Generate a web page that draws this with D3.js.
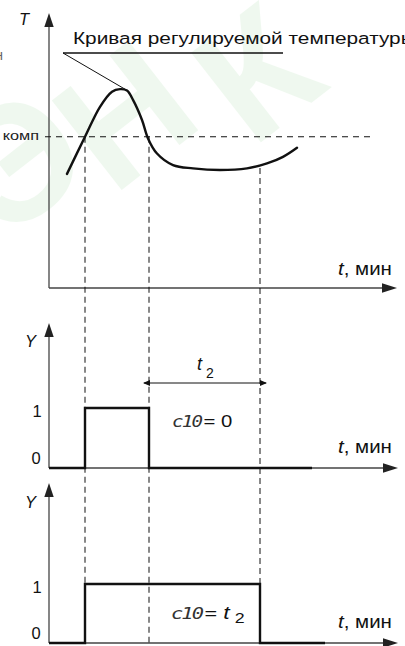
<!DOCTYPE html>
<html><head><meta charset="utf-8">
<script src="https://cdn.jsdelivr.net/npm/d3@7"></script>
<style>body{margin:0;background:#fff}svg{display:block}</style>
</head><body>
<script>
// ---- data ----
const curveT   = [1.8, 3.6, 5.1, 6.3, 7.1, 7.8, 8.4, 9.3, 9.9, 10.8, 12.4, 14.4, 17.1, 19.8, 21.8, 23.4, 24.8];
const curveVal = [41.5, 55, 65.9, 71.4, 72.3, 71.8, 68.4, 61.1, 54.4, 48.9, 44.7, 43.5, 42.9, 43.5, 45.3, 47.7, 51.0];
const threshold = 55;
const eventTimes = [3.6, 10.0, 21.1];           // t_on, t_off, t_on + t2
const stepT1 = [0, 3.6, 3.6, 10.0, 10.0, 26.3]; // c10 = 0
const stepY1 = [0, 0, 1, 1, 0, 0];
const stepT2 = [0, 3.6, 3.6, 21.1, 21.1, 27.6]; // c10 = t2
const stepY2 = [0, 0, 1, 1, 0, 0];
const yTicks = ["0", "1"];
const titleText = "Кривая регулируемой температуры";
const xLabel = ", мин";
const watermarkLetters = ["Э", "Н", "К"];

const W = 405, H = 646;
const svg = d3.select("body").append("svg").attr("width", W).attr("height", H);
const font = "Liberation Sans, Arial, sans-serif";

// faint watermark
const wmPos = [[52, 205], [160, 160], [292, 118]];
watermarkLetters.forEach((L, i) => {
  svg.append("text").attr("transform", `translate(${wmPos[i][0]},${wmPos[i][1]}) rotate(-38)`)
    .attr("font-family", font).attr("font-weight","bold").attr("font-size",165)
    .attr("fill","#3cb43c").attr("opacity",0.08).attr("text-anchor","middle").text(L);
});

const x = d3.scaleLinear().domain([0, 34.8]).range([49, 397]);
const yT = d3.scaleLinear().domain([0, 100]).range([288, 13]);
const y1 = d3.scaleLinear().domain([0, 1]).range([468, 408]);
const y2 = d3.scaleLinear().domain([0, 1]).range([643, 584]);

function placeStretched(sel, xp, yp, sx) {
  sel.attr("transform", `translate(${xp},${yp}) scale(${sx},1)`);
}

function arrowUp(xp, tipY) {
  svg.append("path").attr("d", `M${xp},${tipY} L${xp-4.7},${tipY+14} L${xp+4.7},${tipY+14} Z`).attr("fill","#222");
}
function arrowRight(tipX, yp) {
  svg.append("path").attr("d", `M${tipX},${yp} L${tipX-15},${yp-4.7} L${tipX-15},${yp+4.7} Z`).attr("fill","#222");
}
function axes(yScale, topY, tipX) {
  svg.append("line").attr("x1", x(0)).attr("x2", x(0)).attr("y1", yScale.range()[0]).attr("y2", topY+8)
    .attr("stroke","#444").attr("stroke-width",1.3);
  arrowUp(x(0), topY);
  svg.append("line").attr("x1", x(0)).attr("x2", tipX-8).attr("y1", yScale.range()[0]).attr("y2", yScale.range()[0])
    .attr("stroke","#444").attr("stroke-width",1.3);
  arrowRight(tipX, yScale.range()[0]);
}

function tLabel(xp, yp) {
  const t = svg.append("text").attr("font-family", font).attr("font-size", 17.5).attr("fill","#111");
  t.append("tspan").attr("font-style","italic").text("t");
  t.append("tspan").text(xLabel);
  const w = t.node().getComputedTextLength();
  placeStretched(t, xp, yp, 54 / w);
}
function axisLetter(txt, xp, yp) {
  svg.append("text").attr("x", xp).attr("y", yp).attr("font-family", font).attr("font-style","italic")
    .attr("font-size", 16.5).attr("fill","#111").text(txt);
}

// ---- top chart ----
axes(yT, 13, 397);
axisLetter("T", 19, 25);
svg.append("line").attr("x1", x(0)-4).attr("x2", 372).attr("y1", yT(threshold)).attr("y2", yT(threshold))
  .attr("stroke","#111").attr("stroke-width",1).attr("stroke-dasharray","6,5");
{
  const k = svg.append("text").attr("font-family", font).attr("font-size", 13).attr("fill","#222").attr("text-anchor","end");
  k.append("tspan").text("и комп");
  placeStretched(k, 39, 139.5, 1.25);
}
svg.append("text").attr("x", 3).attr("y", 60).attr("text-anchor","end").attr("font-family", font)
  .attr("font-size", 14).attr("fill","#666").text("н");

const pts = curveT.map((t, i) => [x(t), yT(curveVal[i])]);
svg.append("path").attr("d", d3.line().curve(d3.curveCatmullRom.alpha(0.5))(pts))
  .attr("fill","none").attr("stroke","#111").attr("stroke-width",2.4).attr("stroke-linecap","round");

// callout
svg.append("line").attr("x1", 63).attr("x2", 283).attr("y1", 53).attr("y2", 53).attr("stroke","#111").attr("stroke-width",1.5);
svg.append("line").attr("x1", 63).attr("x2", x(7.6)).attr("y1", 53).attr("y2", yT(72.3)).attr("stroke","#111").attr("stroke-width",1);
{
  const tt = svg.append("text").attr("font-family", font).attr("font-size", 16.5).attr("fill","#111");
  tt.append("tspan").text(titleText.split(" ").slice(0, 2).join(" "));
  const w = tt.node().getComputedTextLength();
  tt.append("tspan").text(" " + titleText.split(" ").slice(2).join(" "));
  placeStretched(tt, 73, 44, 210 / w);
}
tLabel(338, 275);

// vertical dashed lines
const vTop = [yT(threshold), yT(threshold), 168];
const vBot = [646, 646, 584];
eventTimes.forEach((t, i) => {
  svg.append("line").attr("x1", x(t)).attr("x2", x(t)).attr("y1", vTop[i]).attr("y2", vBot[i])
    .attr("stroke","#111").attr("stroke-width",1).attr("stroke-dasharray","6,4");
});

function tickLabels(yScale) {
  yTicks.forEach((lbl, i) => {
    svg.append("text").attr("x", i ? 32.5 : 31.5).attr("y", i ? yScale(1) + 9 : yScale(0) - 4)
      .attr("font-family", font).attr("font-size", 16.5).attr("fill","#111").text(lbl);
  });
}
function c10Label(xp, yp, targetW, rest) {
  const c = svg.append("text").attr("font-family", font).attr("font-size", 17).attr("fill","#111");
  c.append("tspan").attr("font-family","DejaVu Sans Mono").attr("font-style","italic").attr("font-size",16)
    .attr("letter-spacing",-1.5).attr("fill","#333").text("c10");
  rest(c);
  const w = c.node().getComputedTextLength();
  placeStretched(c, xp, yp, targetW / w);
}

// ---- middle chart ----
axes(y1, 323, 398);
axisLetter("Y", 25, 347);
tickLabels(y1);
svg.append("path").attr("d", d3.line()(stepT1.map((t, i) => [x(t), y1(stepY1[i])])))
  .attr("fill","none").attr("stroke","#111").attr("stroke-width",2.4);
tLabel(338, 453);
svg.append("line").attr("x1", x(eventTimes[1]) - 5).attr("x2", x(eventTimes[2]) + 6).attr("y1", 383).attr("y2", 383)
  .attr("stroke","#111").attr("stroke-width",1);
svg.append("path").attr("d", `M${x(eventTimes[1])-6},383 l7,-3 l0,6 Z`).attr("fill","#111");
svg.append("path").attr("d", `M${x(eventTimes[2])+7},383 l-7,-3 l0,6 Z`).attr("fill","#111");
const t2 = svg.append("text").attr("x", 197).attr("y", 370).attr("font-family", font).attr("font-size", 18).attr("fill","#111");
t2.append("tspan").attr("font-style","italic").text("t");
t2.append("tspan").attr("dx", 4).attr("dy", 8).attr("font-size", 14).text("2");

c10Label(172, 427, 58, c => { c.append("tspan").attr("dx", 2).text("= 0"); });

// ---- bottom chart ----
axes(y2, 483, 398);
axisLetter("Y", 25, 508);
tickLabels(y2);
svg.append("path").attr("d", d3.line()(stepT2.map((t, i) => [x(t), y2(stepY2[i])])))
  .attr("fill","none").attr("stroke","#111").attr("stroke-width",2.4);
tLabel(338, 628);
c10Label(171, 619, 66, c => {
  c.append("tspan").attr("dx", 2).text("= ");
  c.append("tspan").attr("font-style","italic").attr("font-size",18).text("t");
  c.append("tspan").attr("dx", 4).attr("dy", 4).attr("font-size", 14).text("2");
});
</script>
</body></html>
